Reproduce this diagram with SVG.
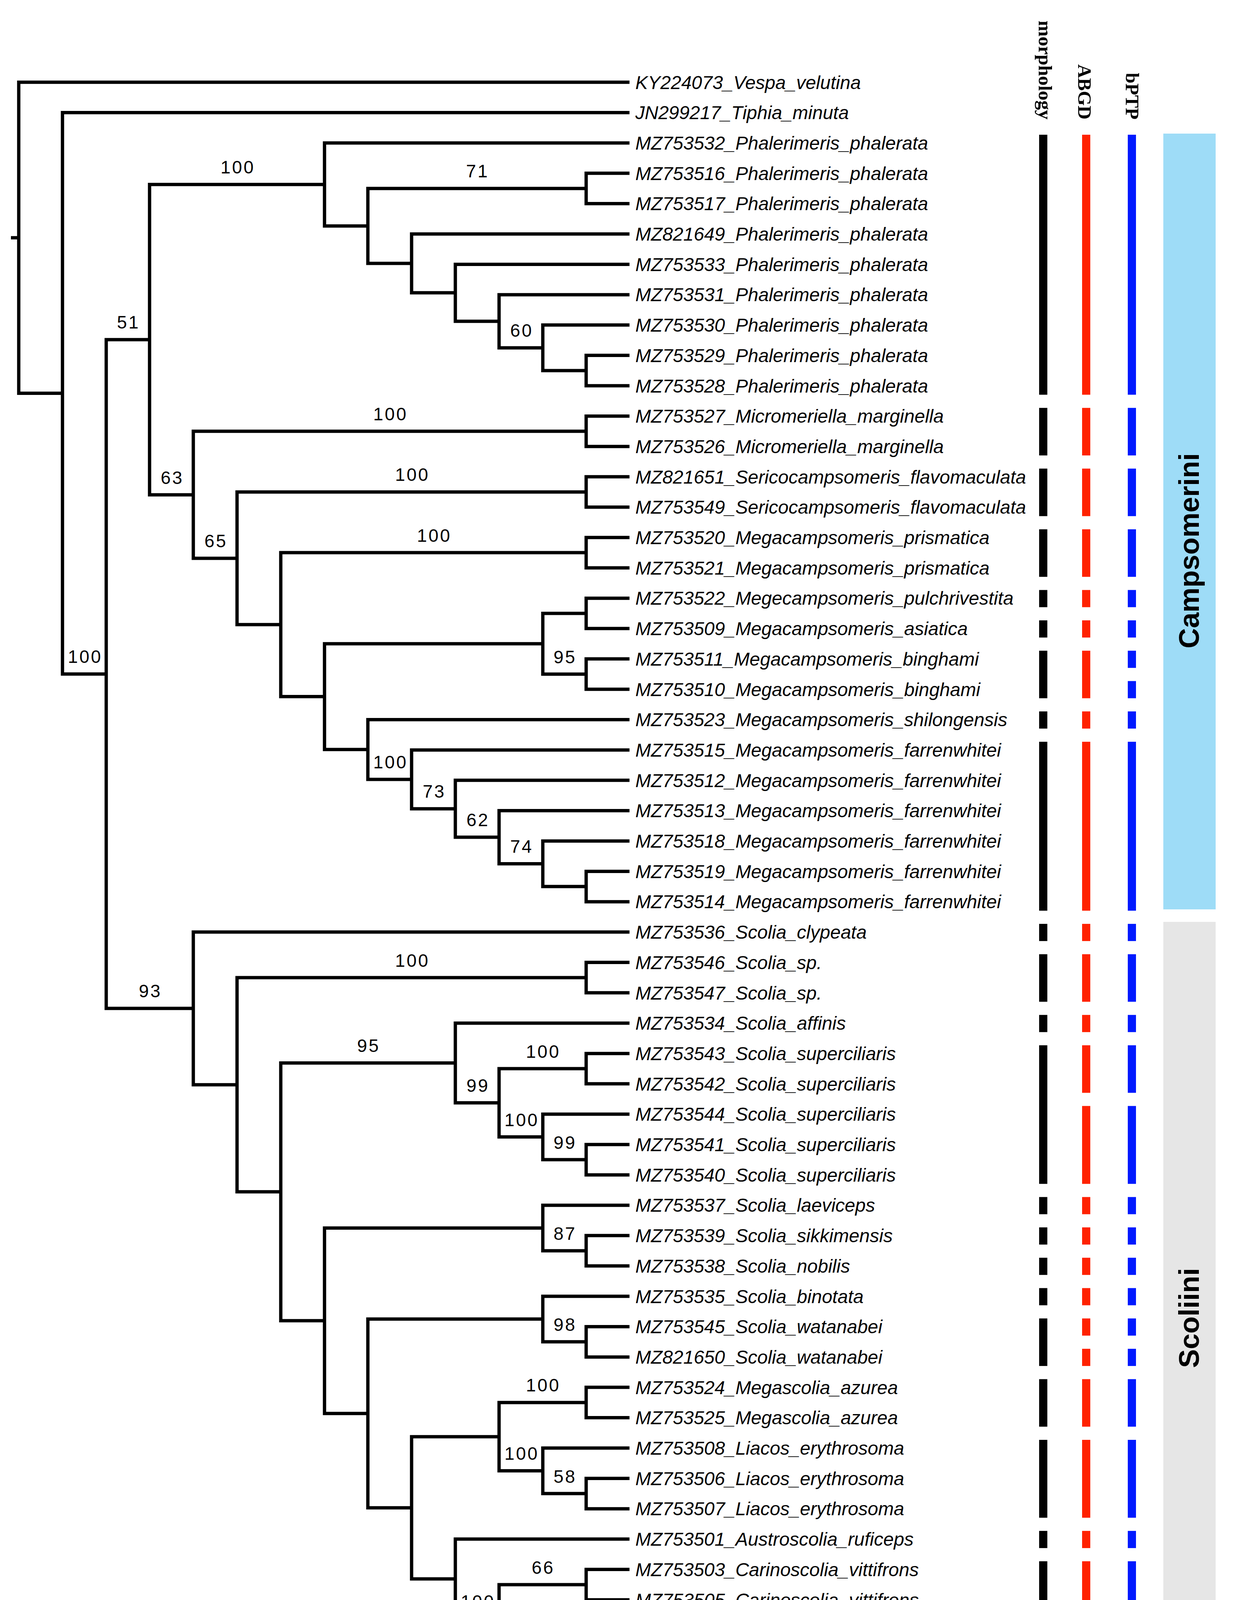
<svg xmlns="http://www.w3.org/2000/svg" width="3160" height="4532" viewBox="0 0 3160 4532">
<style>
.br{fill:none;stroke:#000;stroke-width:8.5;stroke-linecap:butt;stroke-linejoin:miter}
.lf{font-family:"Liberation Sans",Arial,sans-serif;font-style:italic;font-size:48px;fill:#000}
.sp{font-family:"Liberation Sans",Arial,sans-serif;font-size:46px;letter-spacing:4px;text-anchor:middle;fill:#000}
.hd{font-family:"Liberation Serif","Times New Roman",serif;font-weight:bold;font-size:49px;text-anchor:end;fill:#000}
.grp{font-family:"Liberation Sans",Arial,sans-serif;font-weight:bold;font-size:72px;text-anchor:middle;fill:#000}
.mo{fill:#000}
.ab{fill:#FF2200}
.bp{fill:#0019FF}
</style>
<rect width="3160" height="4532" fill="#fff"/>
<g id="connectors">
<path class="br" d="M28 608.65 H48"/>
<path class="br" d="M1612 210.5 H48 V1006.8 H160"/>
<path class="br" d="M1612 288.2 H160 V1725.45 H272"/>
<path class="br" d="M383 869.4 H272 V2581.5 H495"/>
<path class="br" d="M831 472.15 H383 V1266.7 H495"/>
<path class="br" d="M1612 365.9 H831 V578.4 H942"/>
<path class="br" d="M1501 482.45 H942 V674.3 H1054"/>
<path class="br" d="M1612 443.6 H1501 V521.3 H1612"/>
<path class="br" d="M1612 599 H1054 V749.55 H1166"/>
<path class="br" d="M1612 676.7 H1166 V822.4 H1278"/>
<path class="br" d="M1612 754.4 H1278 V890.4 H1390"/>
<path class="br" d="M1612 832.1 H1390 V948.65 H1501"/>
<path class="br" d="M1612 909.8 H1501 V987.5 H1612"/>
<path class="br" d="M1501 1104.05 H495 V1429.3 H607"/>
<path class="br" d="M1612 1065.2 H1501 V1142.9 H1612"/>
<path class="br" d="M1501 1259.45 H607 V1599.1 H719"/>
<path class="br" d="M1612 1220.6 H1501 V1298.3 H1612"/>
<path class="br" d="M1501 1414.85 H719 V1783.3 H831"/>
<path class="br" d="M1612 1376 H1501 V1453.7 H1612"/>
<path class="br" d="M1390 1647.95 H831 V1918.7 H942"/>
<path class="br" d="M1501 1570.25 H1390 V1725.65 H1501"/>
<path class="br" d="M1612 1531.4 H1501 V1609.1 H1612"/>
<path class="br" d="M1612 1686.8 H1501 V1764.5 H1612"/>
<path class="br" d="M1612 1842.2 H942 V1995.2 H1054"/>
<path class="br" d="M1612 1919.9 H1054 V2070.45 H1166"/>
<path class="br" d="M1612 1997.6 H1166 V2143.3 H1278"/>
<path class="br" d="M1612 2075.3 H1278 V2211.3 H1390"/>
<path class="br" d="M1612 2153 H1390 V2269.55 H1501"/>
<path class="br" d="M1612 2230.7 H1501 V2308.4 H1612"/>
<path class="br" d="M1612 2386.1 H495 V2776.9 H607"/>
<path class="br" d="M1501 2502.65 H607 V3051.1 H719"/>
<path class="br" d="M1612 2463.8 H1501 V2541.5 H1612"/>
<path class="br" d="M1166 2721.2 H719 V3381.05 H831"/>
<path class="br" d="M1612 2619.2 H1166 V2823.2 H1278"/>
<path class="br" d="M1501 2735.75 H1278 V2910.6 H1390"/>
<path class="br" d="M1612 2696.9 H1501 V2774.6 H1612"/>
<path class="br" d="M1612 2852.3 H1390 V2968.85 H1501"/>
<path class="br" d="M1612 2930 H1501 V3007.7 H1612"/>
<path class="br" d="M1390 3143.7 H831 V3618.4 H942"/>
<path class="br" d="M1612 3085.4 H1390 V3201.95 H1501"/>
<path class="br" d="M1612 3163.1 H1501 V3240.8 H1612"/>
<path class="br" d="M1390 3376.8 H942 V3860 H1054"/>
<path class="br" d="M1612 3318.5 H1390 V3435.05 H1501"/>
<path class="br" d="M1612 3396.2 H1501 V3473.9 H1612"/>
<path class="br" d="M1278 3677.9 H1054 V4042.1 H1166"/>
<path class="br" d="M1501 3590.45 H1278 V3765.3 H1390"/>
<path class="br" d="M1612 3551.6 H1501 V3629.3 H1612"/>
<path class="br" d="M1612 3707 H1390 V3823.55 H1501"/>
<path class="br" d="M1612 3784.7 H1501 V3862.4 H1612"/>
<path class="br" d="M1612 3940.1 H1166 V4144.1 H1278"/>
<path class="br" d="M1501 4056.65 H1278 V4231.5 H1390"/>
<path class="br" d="M1612 4017.8 H1501 V4095.5 H1612"/>
<path class="br" d="M1612 4173.2 H1390 V4289.75 H1501"/>
<path class="br" d="M1612 4250.9 H1501 V4328.6 H1612"/>
</g>
<g id="support-values">
<text class="sp" x="609" y="444">100</text>
<text class="sp" x="1223" y="454">71</text>
<text class="sp" x="1336" y="862">60</text>
<text class="sp" x="329" y="841">51</text>
<text class="sp" x="1000" y="1076">100</text>
<text class="sp" x="441" y="1239">63</text>
<text class="sp" x="1056" y="1231">100</text>
<text class="sp" x="553" y="1401">65</text>
<text class="sp" x="1112" y="1387">100</text>
<text class="sp" x="218" y="1697">100</text>
<text class="sp" x="1447" y="1698">95</text>
<text class="sp" x="1000" y="1967">100</text>
<text class="sp" x="1112" y="2042">73</text>
<text class="sp" x="1224" y="2115">62</text>
<text class="sp" x="1336" y="2183">74</text>
<text class="sp" x="385" y="2553">93</text>
<text class="sp" x="1056" y="2475">100</text>
<text class="sp" x="944" y="2693">95</text>
<text class="sp" x="1391" y="2708">100</text>
<text class="sp" x="1224" y="2795">99</text>
<text class="sp" x="1336" y="2883">100</text>
<text class="sp" x="1447" y="2941">99</text>
<text class="sp" x="1447" y="3174">87</text>
<text class="sp" x="1447" y="3407">98</text>
<text class="sp" x="1391" y="3562">100</text>
<text class="sp" x="1336" y="3737">100</text>
<text class="sp" x="1447" y="3796">58</text>
<text class="sp" x="1391" y="4029">66</text>
<text class="sp" x="1224" y="4116">100</text>
<text class="sp" x="1336" y="4204">55</text>
<text class="sp" x="1447" y="4262">65</text>
</g>
<g id="taxa">
<g id="t00"><text class="lf" x="1627" y="227.5">KY224073_Vespa_velutina</text></g>
<g id="t01"><text class="lf" x="1627" y="305.2">JN299217_Tiphia_minuta</text></g>
<g id="t02"><text class="lf" x="1627" y="382.9">MZ753532_Phalerimeris_phalerata</text></g>
<g id="t03"><text class="lf" x="1627" y="460.6">MZ753516_Phalerimeris_phalerata</text></g>
<g id="t04"><text class="lf" x="1627" y="538.3">MZ753517_Phalerimeris_phalerata</text></g>
<g id="t05"><text class="lf" x="1627" y="616">MZ821649_Phalerimeris_phalerata</text></g>
<g id="t06"><text class="lf" x="1627" y="693.7">MZ753533_Phalerimeris_phalerata</text></g>
<g id="t07"><text class="lf" x="1627" y="771.4">MZ753531_Phalerimeris_phalerata</text></g>
<g id="t08"><text class="lf" x="1627" y="849.1">MZ753530_Phalerimeris_phalerata</text></g>
<g id="t09"><text class="lf" x="1627" y="926.8">MZ753529_Phalerimeris_phalerata</text></g>
<g id="t10"><text class="lf" x="1627" y="1004.5">MZ753528_Phalerimeris_phalerata</text></g>
<g id="t11"><text class="lf" x="1627" y="1082.2">MZ753527_Micromeriella_marginella</text></g>
<g id="t12"><text class="lf" x="1627" y="1159.9">MZ753526_Micromeriella_marginella</text></g>
<g id="t13"><text class="lf" x="1627" y="1237.6">MZ821651_Sericocampsomeris_flavomaculata</text></g>
<g id="t14"><text class="lf" x="1627" y="1315.3">MZ753549_Sericocampsomeris_flavomaculata</text></g>
<g id="t15"><text class="lf" x="1627" y="1393">MZ753520_Megacampsomeris_prismatica</text></g>
<g id="t16"><text class="lf" x="1627" y="1470.7">MZ753521_Megacampsomeris_prismatica</text></g>
<g id="t17"><text class="lf" x="1627" y="1548.4">MZ753522_Megecampsomeris_pulchrivestita</text></g>
<g id="t18"><text class="lf" x="1627" y="1626.1">MZ753509_Megacampsomeris_asiatica</text></g>
<g id="t19"><text class="lf" x="1627" y="1703.8">MZ753511_Megacampsomeris_binghami</text></g>
<g id="t20"><text class="lf" x="1627" y="1781.5">MZ753510_Megacampsomeris_binghami</text></g>
<g id="t21"><text class="lf" x="1627" y="1859.2">MZ753523_Megacampsomeris_shilongensis</text></g>
<g id="t22"><text class="lf" x="1627" y="1936.9">MZ753515_Megacampsomeris_farrenwhitei</text></g>
<g id="t23"><text class="lf" x="1627" y="2014.6">MZ753512_Megacampsomeris_farrenwhitei</text></g>
<g id="t24"><text class="lf" x="1627" y="2092.3">MZ753513_Megacampsomeris_farrenwhitei</text></g>
<g id="t25"><text class="lf" x="1627" y="2170">MZ753518_Megacampsomeris_farrenwhitei</text></g>
<g id="t26"><text class="lf" x="1627" y="2247.7">MZ753519_Megacampsomeris_farrenwhitei</text></g>
<g id="t27"><text class="lf" x="1627" y="2325.4">MZ753514_Megacampsomeris_farrenwhitei</text></g>
<g id="t28"><text class="lf" x="1627" y="2403.1">MZ753536_Scolia_clypeata</text></g>
<g id="t29"><text class="lf" x="1627" y="2480.8">MZ753546_Scolia_sp.</text></g>
<g id="t30"><text class="lf" x="1627" y="2558.5">MZ753547_Scolia_sp.</text></g>
<g id="t31"><text class="lf" x="1627" y="2636.2">MZ753534_Scolia_affinis</text></g>
<g id="t32"><text class="lf" x="1627" y="2713.9">MZ753543_Scolia_superciliaris</text></g>
<g id="t33"><text class="lf" x="1627" y="2791.6">MZ753542_Scolia_superciliaris</text></g>
<g id="t34"><text class="lf" x="1627" y="2869.3">MZ753544_Scolia_superciliaris</text></g>
<g id="t35"><text class="lf" x="1627" y="2947">MZ753541_Scolia_superciliaris</text></g>
<g id="t36"><text class="lf" x="1627" y="3024.7">MZ753540_Scolia_superciliaris</text></g>
<g id="t37"><text class="lf" x="1627" y="3102.4">MZ753537_Scolia_laeviceps</text></g>
<g id="t38"><text class="lf" x="1627" y="3180.1">MZ753539_Scolia_sikkimensis</text></g>
<g id="t39"><text class="lf" x="1627" y="3257.8">MZ753538_Scolia_nobilis</text></g>
<g id="t40"><text class="lf" x="1627" y="3335.5">MZ753535_Scolia_binotata</text></g>
<g id="t41"><text class="lf" x="1627" y="3413.2">MZ753545_Scolia_watanabei</text></g>
<g id="t42"><text class="lf" x="1627" y="3490.9">MZ821650_Scolia_watanabei</text></g>
<g id="t43"><text class="lf" x="1627" y="3568.6">MZ753524_Megascolia_azurea</text></g>
<g id="t44"><text class="lf" x="1627" y="3646.3">MZ753525_Megascolia_azurea</text></g>
<g id="t45"><text class="lf" x="1627" y="3724">MZ753508_Liacos_erythrosoma</text></g>
<g id="t46"><text class="lf" x="1627" y="3801.7">MZ753506_Liacos_erythrosoma</text></g>
<g id="t47"><text class="lf" x="1627" y="3879.4">MZ753507_Liacos_erythrosoma</text></g>
<g id="t48"><text class="lf" x="1627" y="3957.1">MZ753501_Austroscolia_ruficeps</text></g>
<g id="t49"><text class="lf" x="1627" y="4034.8">MZ753503_Carinoscolia_vittifrons</text></g>
<g id="t50"><text class="lf" x="1627" y="4112.5">MZ753505_Carinoscolia_vittifrons</text></g>
<g id="t51"><text class="lf" x="1627" y="4190.2">MZ753504_Carinoscolia_vittifrons</text></g>
<g id="t52"><text class="lf" x="1627" y="4267.9">MZ821648_Carinoscolia_vittifrons</text></g>
<g id="t53"><text class="lf" x="1627" y="4345.6">MZ753502_Carinoscolia_vittifrons</text></g>
</g>
<g id="headers">
<text class="hd" transform="translate(2660,306) rotate(90)">morphology</text>
<text class="hd" transform="translate(2761,306) rotate(90)">ABGD</text>
<text class="hd" transform="translate(2883,306) rotate(90)">bPTP</text>
</g>
<g id="morphology-bars" class="mo">
<rect x="2661" y="344.9" width="21" height="665.6"/>
<rect x="2661" y="1044.2" width="21" height="121.7"/>
<rect x="2661" y="1199.6" width="21" height="121.7"/>
<rect x="2661" y="1355" width="21" height="121.7"/>
<rect x="2661" y="1510.4" width="21" height="44"/>
<rect x="2661" y="1588.1" width="21" height="44"/>
<rect x="2661" y="1665.8" width="21" height="121.7"/>
<rect x="2661" y="1821.2" width="21" height="44"/>
<rect x="2661" y="1898.9" width="21" height="432.5"/>
<rect x="2661" y="2365.1" width="21" height="44"/>
<rect x="2661" y="2442.8" width="21" height="121.7"/>
<rect x="2661" y="2598.2" width="21" height="44"/>
<rect x="2661" y="2675.9" width="21" height="354.8"/>
<rect x="2661" y="3064.4" width="21" height="44"/>
<rect x="2661" y="3142.1" width="21" height="44"/>
<rect x="2661" y="3219.8" width="21" height="44"/>
<rect x="2661" y="3297.5" width="21" height="44"/>
<rect x="2661" y="3375.2" width="21" height="121.7"/>
<rect x="2661" y="3530.6" width="21" height="121.7"/>
<rect x="2661" y="3686" width="21" height="199.4"/>
<rect x="2661" y="3919.1" width="21" height="44"/>
<rect x="2661" y="3996.8" width="21" height="354.8"/>
</g>
<g id="abgd-bars" class="ab">
<rect x="2771" y="344.9" width="21" height="665.6"/>
<rect x="2771" y="1044.2" width="21" height="121.7"/>
<rect x="2771" y="1199.6" width="21" height="121.7"/>
<rect x="2771" y="1355" width="21" height="121.7"/>
<rect x="2771" y="1510.4" width="21" height="44"/>
<rect x="2771" y="1588.1" width="21" height="44"/>
<rect x="2771" y="1665.8" width="21" height="121.7"/>
<rect x="2771" y="1821.2" width="21" height="44"/>
<rect x="2771" y="1898.9" width="21" height="432.5"/>
<rect x="2771" y="2365.1" width="21" height="44"/>
<rect x="2771" y="2442.8" width="21" height="121.7"/>
<rect x="2771" y="2598.2" width="21" height="44"/>
<rect x="2771" y="2675.9" width="21" height="121.7"/>
<rect x="2771" y="2831.3" width="21" height="199.4"/>
<rect x="2771" y="3064.4" width="21" height="44"/>
<rect x="2771" y="3142.1" width="21" height="44"/>
<rect x="2771" y="3219.8" width="21" height="44"/>
<rect x="2771" y="3297.5" width="21" height="44"/>
<rect x="2771" y="3375.2" width="21" height="44"/>
<rect x="2771" y="3452.9" width="21" height="44"/>
<rect x="2771" y="3530.6" width="21" height="121.7"/>
<rect x="2771" y="3686" width="21" height="199.4"/>
<rect x="2771" y="3919.1" width="21" height="44"/>
<rect x="2771" y="3996.8" width="21" height="354.8"/>
</g>
<g id="bptp-bars" class="bp">
<rect x="2888" y="344.9" width="21" height="665.6"/>
<rect x="2888" y="1044.2" width="21" height="121.7"/>
<rect x="2888" y="1199.6" width="21" height="121.7"/>
<rect x="2888" y="1355" width="21" height="121.7"/>
<rect x="2888" y="1510.4" width="21" height="44"/>
<rect x="2888" y="1588.1" width="21" height="44"/>
<rect x="2888" y="1665.8" width="21" height="44"/>
<rect x="2888" y="1743.5" width="21" height="44"/>
<rect x="2888" y="1821.2" width="21" height="44"/>
<rect x="2888" y="1898.9" width="21" height="432.5"/>
<rect x="2888" y="2365.1" width="21" height="44"/>
<rect x="2888" y="2442.8" width="21" height="121.7"/>
<rect x="2888" y="2598.2" width="21" height="44"/>
<rect x="2888" y="2675.9" width="21" height="121.7"/>
<rect x="2888" y="2831.3" width="21" height="199.4"/>
<rect x="2888" y="3064.4" width="21" height="44"/>
<rect x="2888" y="3142.1" width="21" height="44"/>
<rect x="2888" y="3219.8" width="21" height="44"/>
<rect x="2888" y="3297.5" width="21" height="44"/>
<rect x="2888" y="3375.2" width="21" height="44"/>
<rect x="2888" y="3452.9" width="21" height="44"/>
<rect x="2888" y="3530.6" width="21" height="121.7"/>
<rect x="2888" y="3686" width="21" height="199.4"/>
<rect x="2888" y="3919.1" width="21" height="44"/>
<rect x="2888" y="3996.8" width="21" height="354.8"/>
</g>
<g id="campsomerini">
<rect x="2979" y="342" width="134" height="1986" fill="#9EDCF7"/>
<text class="grp" transform="translate(3070,1410) rotate(-90)">Campsomerini</text>
</g>
<g id="scoliini">
<rect x="2979" y="2360" width="134" height="1994" fill="#E6E6E6"/>
<text class="grp" transform="translate(3070,3374) rotate(-90)">Scoliini</text>
</g>
<g id="scale-bar">
<path d="M709 4411 H933" stroke="#000" stroke-width="9" fill="none"/>
<text class="sp" x="823" y="4476">2.0</text>
</g>
</svg>
